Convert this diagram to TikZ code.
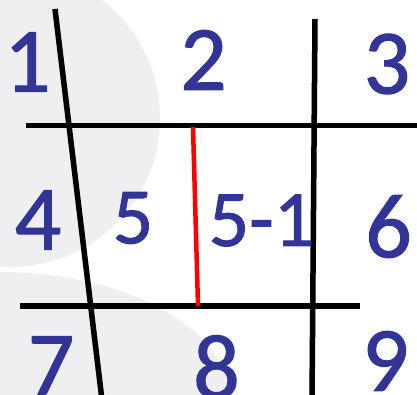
\documentclass[tikz,border=0pt]{standalone}
\usepackage{fontspec}
\setmainfont{Carlito}
\newfontfamily\numfont[FakeBold=1.2]{Carlito}
\definecolor{numblue}{RGB}{50,52,150}
\definecolor{bggray}{RGB}{239,239,241}
\begin{document}
\begin{tikzpicture}[x=1pt,y=-1pt,
  num/.style={text=numblue, inner sep=0pt, font=\numfont\fontsize{92}{92}\selectfont},
  numsmall/.style={text=numblue, inner sep=0pt, font=\numfont\fontsize{80}{80}\selectfont},
  blackline/.style={line width=5.5pt, black},
  shadowline/.style={line width=5.5pt, black!25, opacity=0.5},
  redline/.style={line width=4.5pt, red}]
\useasboundingbox (0,0) rectangle (417,394);
\begin{scope}
\clip (0,0) rectangle (417,394);
\fill[bggray] (11,118) circle (149pt);
\fill[bggray] (0,400) ellipse (230pt and 128pt);
% line end points
\coordinate (slA) at (55,9);
\coordinate (slB) at (102,400);
\coordinate (thA) at (26,125.5);
\coordinate (thB) at (420,125.5);
\coordinate (rvA) at (315,19);
\coordinate (rvB) at (312,400);
\coordinate (lhA) at (20,306);
\coordinate (lhB) at (360,306);
\coordinate (rdA) at (193,127);
\coordinate (rdB) at (198,306);
% shadows
\begin{scope}[shift={(1.5,2)}]
\draw[shadowline] (slA) -- (slB);
\draw[shadowline] (thA) -- (thB);
\draw[shadowline] (rvA) -- (rvB);
\draw[shadowline] (lhA) -- (lhB);
\end{scope}
% lines
\draw[blackline] (slA) -- (slB);
\draw[blackline] (thA) -- (thB);
\draw[blackline] (rvA) -- (rvB);
\draw[blackline] (lhA) -- (lhB);
\draw[redline] (rdA) -- (rdB);
% labels
\node[num] (n1) at (27.5,62) {1};
\node[num] (n2) at (203.5,60) {2};
\node[num] (n3) at (387,64) {3};
\node[num] (n4) at (38,220) {4};
\node[numsmall] (n5) at (133,218) {5};
\node[numsmall] (n51) at (261.5,220.5) {5-1};
\node[num] (n6) at (388.5,226.5) {6};
\node[num] (n7) at (51,366) {7};
\node[num] (n8) at (216.5,367) {8};
\node[num] (n9) at (385.5,361) {9};
\end{scope}
\end{tikzpicture}
\end{document}
